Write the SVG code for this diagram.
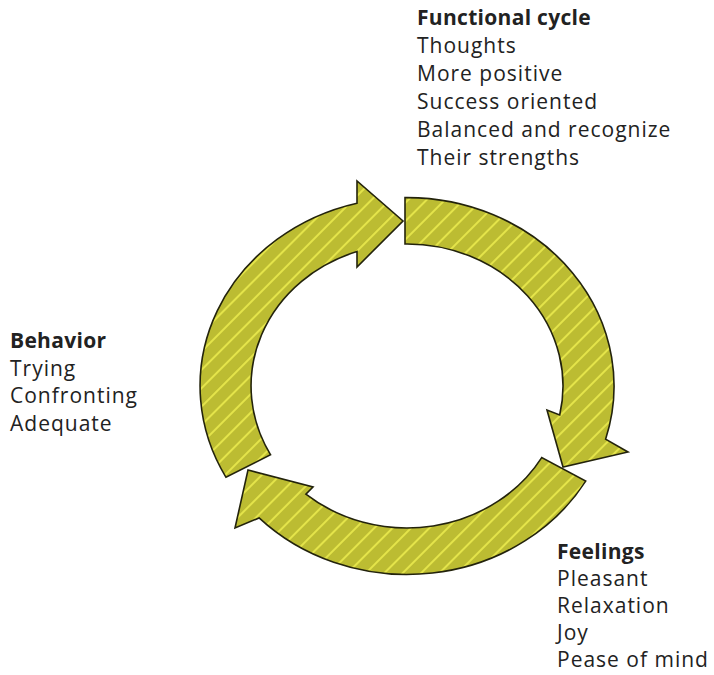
<svg xmlns="http://www.w3.org/2000/svg" width="714" height="675" viewBox="0 0 714 675">
  <defs>
    <pattern id="hatch" width="13" height="13" patternUnits="userSpaceOnUse" patternTransform="rotate(45)">
      <rect width="13" height="13" fill="#bcbc32"/>
      <line x1="1" y1="0" x2="1" y2="13" stroke="#e4e44a" stroke-width="2"/>
    </pattern>
  </defs>
  <style>
    .arrow { fill: url(#hatch); stroke: #23230c; stroke-width: 1.6; stroke-linejoin: miter; }
    .t { font-family: "Open Sans", "Liberation Sans", sans-serif; font-size: 21px; fill: #222; letter-spacing: 1px; }
    .h { font-weight: bold; letter-spacing: 0.3px; }
  </style>
  <rect width="714" height="675" fill="#ffffff"/>
  <g id="connectors">
    <path id="arrow-thoughts-feelings" class="arrow" d="M 405,197.6 A 207 188.4 0 0 1 605.6,439.2 L 628,452 L 563,467 L 547,410 L 559.7,415 A 156 142 0 0 0 405,244 Z"/>
    <path id="arrow-feelings-behavior" class="arrow" d="M 585.7,481.1 A 207 188.4 0 0 1 259.1,517.9 L 235,528 L 248,470 L 313,487 L 305.9,494.1 A 156 142 0 0 0 541.7,457.6 Z"/>
    <path id="arrow-behavior-thoughts" class="arrow" d="M 226,477.3 A 207 188.4 0 0 1 357,203.2 L 357,181 L 403,221 L 357,267 L 357,251.5 A 156 142 0 0 0 270.6,454.8 Z"/>
  </g>
  <g id="functional-cycle">
    <text class="t h" x="417" y="25">Functional cycle</text>
    <text class="t" x="417" y="53">Thoughts</text>
    <text class="t" x="417" y="81">More positive</text>
    <text class="t" x="417" y="109">Success oriented</text>
    <text class="t" x="417" y="137">Balanced and recognize</text>
    <text class="t" x="417" y="165">Their strengths</text>
  </g>
  <g id="behavior">
    <text class="t h" x="10" y="348">Behavior</text>
    <text class="t" x="10" y="376">Trying</text>
    <text class="t" x="10" y="403">Confronting</text>
    <text class="t" x="10" y="431">Adequate</text>
  </g>
  <g id="feelings">
    <text class="t h" x="557" y="559">Feelings</text>
    <text class="t" x="557" y="586">Pleasant</text>
    <text class="t" x="557" y="613">Relaxation</text>
    <text class="t" x="557" y="640">Joy</text>
    <text class="t" x="557" y="667">Pease of mind</text>
  </g>
</svg>
